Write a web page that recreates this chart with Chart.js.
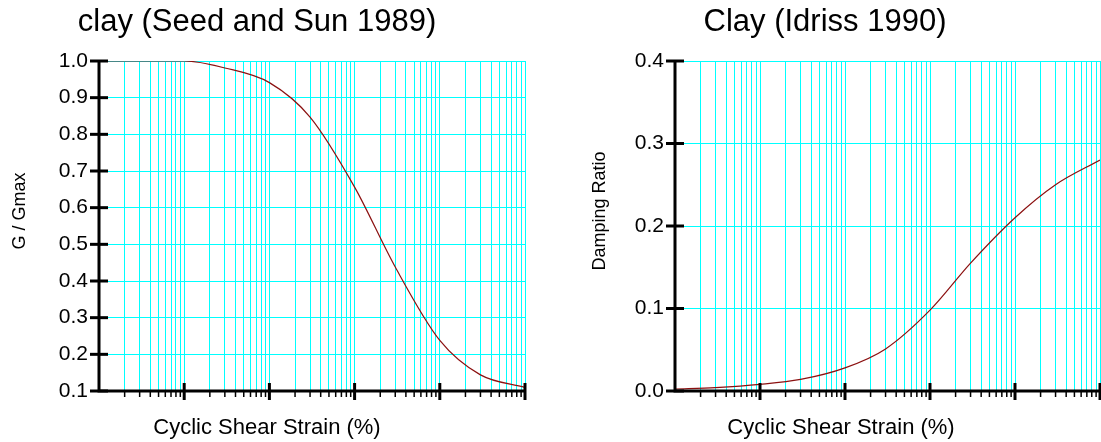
<!DOCTYPE html>
<html>
<head>
<meta charset="utf-8">
<script src="https://cdn.jsdelivr.net/npm/chart.js@4/dist/chart.umd.min.js"></script>
<style>
  body { margin: 0; background: #fff; }
  .box { position: absolute; top: 0; height: 442px; }
</style>
</head>
<body>
<div class="box" style="left:0;width:550px"><canvas id="modulus"></canvas></div>
<div class="box" style="left:550px;width:551px"><canvas id="damping"></canvas></div>
<script>
// cyclic shear strain (%)
const strain = [0.0001, 0.0003, 0.001, 0.003, 0.01, 0.03, 0.1, 0.3, 1, 3, 10];
// clay (Seed and Sun 1989)
const gRatio = [1.0, 1.0, 1.0, 0.981, 0.941, 0.847, 0.656, 0.438, 0.238, 0.144, 0.110];
// Clay (Idriss 1990)
const damping = [0.0024, 0.0042, 0.008, 0.014, 0.028, 0.051, 0.098, 0.155, 0.21, 0.25, 0.28];

const FONT = "'Liberation Sans', Arial, sans-serif";
const CYAN = "#00ffff";

// ticks 1..9 per decade, used for the cyan grid
function logTicks(min, max) {
  const out = [];
  for (let e = Math.log10(min); e < Math.log10(max); e++) {
    for (let k = 1; k < 10; k++) out.push({ value: k * Math.pow(10, e) });
  }
  out.push({ value: max });
  return out;
}

const decorations = {
  id: "decorations",
  afterDraw(chart, args, opts) {
    const ctx = chart.ctx;
    const a = chart.chartArea;
    const xs = chart.scales.x, ys = chart.scales.y;
    ctx.save();
    ctx.strokeStyle = "#000";
    ctx.lineCap = "butt";

    // axes
    ctx.lineWidth = 3;
    ctx.beginPath();
    ctx.moveTo(a.left, a.top);
    ctx.lineTo(a.left, a.bottom + 1.5);
    ctx.moveTo(a.left - 1.5, a.bottom);
    ctx.lineTo(a.right, a.bottom);
    ctx.stroke();

    // y tick marks across the axis
    ys.ticks.forEach(t => {
      const y = ys.getPixelForValue(t.value);
      ctx.beginPath();
      ctx.moveTo(a.left - 9, y);
      ctx.lineTo(a.left + 9, y);
      ctx.stroke();
    });

    // x tick marks
    xs.ticks.forEach(t => {
      const x = xs.getPixelForValue(t.value);
      if (Math.abs(x - a.left) < 1) return;
      const lg = Math.log10(t.value);
      ctx.beginPath();
      if (Math.abs(lg - Math.round(lg)) < 1e-9) {
        ctx.lineWidth = 3;
        ctx.moveTo(x, a.bottom - 8);
        ctx.lineTo(x, a.bottom + 9);
      } else {
        ctx.lineWidth = 1.5;
        ctx.moveTo(x, a.bottom);
        ctx.lineTo(x, a.bottom + 6);
      }
      ctx.stroke();
    });

    // texts
    ctx.fillStyle = "#000";
    ctx.textAlign = "center";
    ctx.textBaseline = "middle";
    ctx.font = "31px " + FONT;
    ctx.fillText(opts.title, opts.titleX, 22);
    ctx.font = "22px " + FONT;
    ctx.fillText("Cyclic Shear Strain (%)", opts.xTitleX, 428);
    ctx.translate(opts.yTitleX, 211);
    ctx.rotate(-Math.PI / 2);
    ctx.font = "18px " + FONT;
    ctx.fillText(opts.yTitle, 0, 0);
    ctx.restore();
  }
};

function makeChart(id, values, yMin, yMax, pad, yWidth, texts) {
  new Chart(document.getElementById(id), {
    type: "line",
    data: {
      datasets: [{
        data: strain.map((s, i) => ({ x: s, y: values[i] })),
        borderColor: "#8b1010",
        borderWidth: 1.2,
        pointRadius: 0,
        cubicInterpolationMode: "monotone",
        fill: false
      }]
    },
    options: {
      responsive: true,
      maintainAspectRatio: false,
      animation: false,
      layout: { padding: pad },
      plugins: { legend: { display: false }, tooltip: { enabled: false }, decorations: texts },
      scales: {
        x: {
          type: "logarithmic",
          min: 0.0001,
          max: 10,
          afterBuildTicks: s => { s.ticks = logTicks(0.0001, 10); },
          afterFit: s => { s.height = 0; },
          ticks: { display: false },
          grid: { color: CYAN, lineWidth: 1, drawTicks: false },
          border: { display: false }
        },
        y: {
          min: yMin,
          max: yMax,
          afterFit: s => { s.width = yWidth; },
          ticks: {
            stepSize: 0.1,
            padding: 11,
            color: "#000",
            font: { family: FONT, size: 21 },
            callback: v => Number(v).toFixed(1)
          },
          grid: { color: CYAN, lineWidth: 1, drawTicks: false },
          border: { display: false }
        }
      }
    },
    plugins: [decorations]
  });
}

makeChart("modulus", gRatio, 0.1, 1.0,
  { left: 39, right: 25, top: 61, bottom: 51 }, 60,
  { title: "clay (Seed and Sun 1989)", titleX: 257, xTitleX: 267, yTitle: "G / Gmax", yTitleX: 20 });

makeChart("damping", damping, 0, 0.4,
  { left: 65, right: 1, top: 61, bottom: 51 }, 60,
  { title: "Clay (Idriss 1990)", titleX: 275, xTitleX: 291, yTitle: "Damping Ratio", yTitleX: 50 });
</script>
</body>
</html>
